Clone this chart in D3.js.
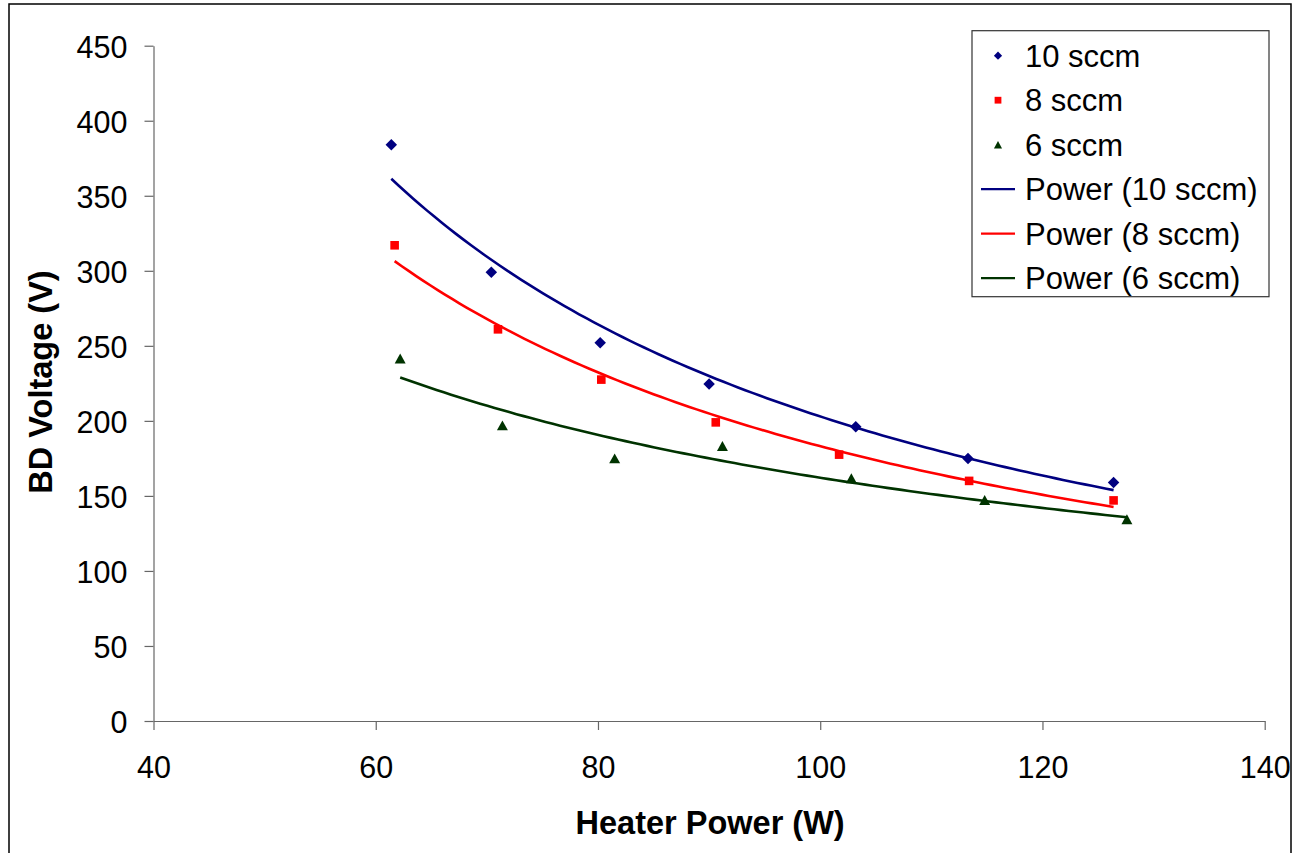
<!DOCTYPE html>
<html lang='en'>
<head>
    <meta charset='UTF-8'>
    <title>BD Voltage vs Heater Power</title>
    <style>
        body { margin: 0; background: #fff; }
        svg { display: block; font-family: 'Liberation Sans', Arial, sans-serif; }
    </style>
</head>
<body>
    <div id='anchor'></div>
    <script src='https://cdnjs.cloudflare.com/ajax/libs/d3/7.8.5/d3.min.js'></script>
    <script>
        // values
        const power10 = [61.4, 70.4, 80.2, 90.0, 103.2, 113.3, 126.4];
        const volts10 = [384, 299, 252, 224.5, 196, 175, 159];
        const power8 = [61.7, 71.0, 80.3, 90.6, 101.7, 113.4, 126.4];
        const volts8 = [317, 261, 227.5, 199, 177.5, 160, 147];
        const power6 = [62.2, 71.4, 81.5, 91.2, 102.8, 114.8, 127.6];
        const volts6 = [241.5, 197, 175, 183.3, 161.8, 147.3, 134.5];

        const seriesNames = ['10 sccm', '8 sccm', '6 sccm'];
        const xTicks = [40, 60, 80, 100, 120, 140];
        const yTicks = [0, 50, 100, 150, 200, 250, 300, 350, 400, 450];

        const colors = ['#000080', '#ff0000', '#003300'];

        const width = 1296, height = 853;
        const plotL = 153.5, plotR = 1264.7, plotT = 45.7, plotB = 721;

        const x = d3.scaleLinear().domain([40, 140]).range([plotL, plotR]);
        const y = d3.scaleLinear().domain([0, 450]).range([plotB, plotT]);

        // rotated square, like the Excel diamond
        const diamond = {
            draw(ctx, size) {
                const r = Math.sqrt(size / 2);
                ctx.moveTo(0, -r); ctx.lineTo(r, 0); ctx.lineTo(0, r); ctx.lineTo(-r, 0); ctx.closePath();
            }
        };
        const triangle = {
            draw(ctx, size) {
                const h = Math.sqrt(size * 1.6);
                const w = h * 1.1;
                ctx.moveTo(0, -h / 2); ctx.lineTo(w / 2, h / 2); ctx.lineTo(-w / 2, h / 2); ctx.closePath();
            }
        };
        const shapes = [diamond, d3.symbolSquare, triangle];

        const series = [
            { name: seriesNames[0], xs: power10, ys: volts10 },
            { name: seriesNames[1], xs: power8, ys: volts8 },
            { name: seriesNames[2], xs: power6, ys: volts6 }
        ];

        // Excel-style power trendline: least squares in log-log space
        function powerFit(xs, ys) {
            const n = xs.length;
            const lx = xs.map(Math.log), ly = ys.map(Math.log);
            const mx = d3.mean(lx), my = d3.mean(ly);
            let sxy = 0, sxx = 0;
            for (let i = 0; i < n; i++) {
                sxy += (lx[i] - mx) * (ly[i] - my);
                sxx += (lx[i] - mx) * (lx[i] - mx);
            }
            const b = sxy / sxx;
            const a = Math.exp(my - b * mx);
            return v => a * Math.pow(v, b);
        }

        const svg = d3.select('#anchor').append('svg')
            .attr('width', width)
            .attr('height', height);

        svg.append('rect')
            .attr('x', 9).attr('y', 4)
            .attr('width', 1282).attr('height', 860)
            .attr('fill', 'none')
            .attr('stroke', '#000')
            .attr('stroke-width', 1.5);

        const xAxis = svg.append('g')
            .attr('transform', `translate(0,${plotB})`)
            .call(d3.axisBottom(x).tickValues(xTicks).tickSize(9).tickSizeOuter(0));
        const yAxis = svg.append('g')
            .attr('transform', `translate(${plotL},0)`)
            .call(d3.axisLeft(y).tickValues(yTicks).tickSize(9).tickSizeOuter(0));

        [xAxis, yAxis].forEach(g => {
            g.select('.domain').attr('stroke', '#666').attr('stroke-width', 1.2);
            g.selectAll('.tick line').attr('stroke', '#666').attr('stroke-width', 1.2);
            g.selectAll('.tick text')
                .attr('fill', '#000')
                .attr('font-size', 30.5)
                .attr('font-family', "'Liberation Sans', Arial, sans-serif");
        });
        yAxis.selectAll('.tick text').attr('dy', 11.5).attr('x', -26);
        xAxis.selectAll('.tick text').attr('dy', 0).attr('y', 57);

        svg.append('text')
            .attr('x', (plotL + plotR) / 2 + 1)
            .attr('y', 834)
            .attr('text-anchor', 'middle')
            .attr('font-size', 32.5)
            .attr('font-weight', 'bold')
            .text('Heater Power (W)');

        svg.append('text')
            .attr('transform', `translate(52,382) rotate(-90)`)
            .attr('text-anchor', 'middle')
            .attr('font-size', 32.5)
            .attr('font-weight', 'bold')
            .text('BD Voltage (V)');

        // trendlines
        const line = d3.line().x(d => x(d[0])).y(d => y(d[1]));
        series.forEach((s, i) => {
            const f = powerFit(s.xs, s.ys);
            const x0 = d3.min(s.xs), x1 = d3.max(s.xs);
            const pts = d3.range(0, 101).map(k => {
                const v = x0 + (x1 - x0) * k / 100;
                return [v, f(v)];
            });
            svg.append('path')
                .attr('d', line(pts))
                .attr('fill', 'none')
                .attr('stroke', colors[i])
                .attr('stroke-width', 2.6);
        });

        // markers
        const markerSizes = [66, 74, 62];
        series.forEach((s, i) => {
            svg.append('g')
                .selectAll('path')
                .data(s.xs.map((v, k) => [v, s.ys[k]]))
                .join('path')
                .attr('transform', d => `translate(${x(d[0])},${y(d[1])})`)
                .attr('d', d3.symbol().type(shapes[i]).size(markerSizes[i]))
                .attr('fill', colors[i]);
        });

        // legend
        const legend = svg.append('g');
        legend.append('rect')
            .attr('x', 972).attr('y', 30.7)
            .attr('width', 297).attr('height', 266)
            .attr('fill', '#fff')
            .attr('stroke', '#333')
            .attr('stroke-width', 1.2);

        const legendLabels = seriesNames.concat(seriesNames.map(n => `Power (${n})`));
        const rowY = k => 55.7 + k * 44.5;
        legendLabels.forEach((label, k) => {
            const ci = k % 3;
            if (k < 3) {
                legend.append('path')
                    .attr('transform', `translate(998,${rowY(k)})`)
                    .attr('d', d3.symbol().type(shapes[ci]).size([34, 46, 34][ci]))
                    .attr('fill', colors[ci]);
            } else {
                legend.append('line')
                    .attr('x1', 981).attr('x2', 1015)
                    .attr('y1', rowY(k)).attr('y2', rowY(k))
                    .attr('stroke', colors[ci])
                    .attr('stroke-width', 2.2);
            }
            legend.append('text')
                .attr('x', 1025)
                .attr('y', rowY(k) + 11)
                .attr('font-size', 31)
                .text(label);
        });
    </script>
</body>
</html>
